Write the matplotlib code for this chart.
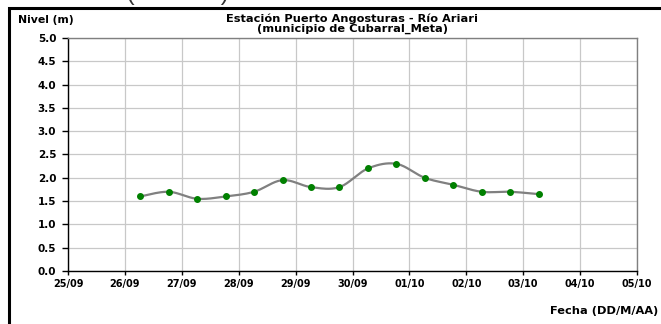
import numpy as np
import matplotlib
matplotlib.use("Agg")
import matplotlib.pyplot as plt
from matplotlib.patches import Rectangle

plt.rcParams['font.family'] = ['DejaVu Sans']

# day labels on the x axis (one per day, 25/09 .. 05/10)
day_labels = ["25/09", "26/09", "27/09", "28/09", "29/09", "30/09",
              "01/10", "02/10", "03/10", "04/10", "05/10"]

# readings: days since 25/09 00:00, level in metres
obs_days = [1.27, 1.77, 2.27, 2.77, 3.27, 3.77, 4.27, 4.77,
            5.27, 5.77, 6.27, 6.77, 7.27, 7.77, 8.27]
obs_level = [1.60, 1.70, 1.55, 1.60, 1.70, 1.95, 1.80, 1.80,
             2.20, 2.30, 2.00, 1.85, 1.70, 1.70, 1.65]

y_ticks = [0.0, 0.5, 1.0, 1.5, 2.0, 2.5, 3.0, 3.5, 4.0, 4.5, 5.0]


def smooth_line(x, y, steps=20):
    """Excel style smoothed line (Catmull-Rom bezier through the points)."""
    x = np.asarray(x, float)
    y = np.asarray(y, float)
    n = len(x)
    xs, ys = [x[0]], [y[0]]
    for i in range(n - 1):
        p0 = np.array([x[max(i - 1, 0)], y[max(i - 1, 0)]])
        p1 = np.array([x[i], y[i]])
        p2 = np.array([x[i + 1], y[i + 1]])
        p3 = np.array([x[min(i + 2, n - 1)], y[min(i + 2, n - 1)]])
        c1 = p1 + (p2 - p0) / 6.0
        c2 = p2 - (p3 - p1) / 6.0
        t = np.linspace(0, 1, steps)[1:, None]
        pts = ((1 - t) ** 3 * p1 + 3 * (1 - t) ** 2 * t * c1
               + 3 * (1 - t) * t ** 2 * c2 + t ** 3 * p2)
        xs.extend(pts[:, 0])
        ys.extend(pts[:, 1])
    return np.array(xs), np.array(ys)


fig = plt.figure(figsize=(6.61, 3.24), dpi=100)
ax = fig.add_axes([0.1029, 0.1636, 0.8608, 0.7191])

sx, sy = smooth_line(obs_days, obs_level)
ax.plot(sx, sy, color="#808080", linewidth=1.6, zorder=3)
ax.plot(obs_days, obs_level, linestyle="none", marker="o", markersize=4,
        color="#008000", zorder=4)

ax.set_xlim(0, len(day_labels) - 1)
ax.set_ylim(0, 5)
ax.set_xticks(range(len(day_labels)))
ax.set_xticklabels(day_labels, fontsize=7, fontweight="bold")
ax.set_yticks(y_ticks)
ax.set_yticklabels([f"{v:.1f}" for v in y_ticks], fontsize=7.5, fontweight="bold")
ax.tick_params(axis="x", direction="out", length=3, width=1, pad=3)
ax.tick_params(axis="y", direction="out", length=4, width=1, pad=4.5)
ax.grid(True, color="#c8c8c8", linewidth=0.9)
ax.set_axisbelow(True)

for side in ("left", "bottom"):
    ax.spines[side].set_color("black")
    ax.spines[side].set_linewidth(1.0)
for side in ("top", "right"):
    ax.spines[side].set_color("#808080")
    ax.spines[side].set_linewidth(1.0)

fig.text(352.5 / 661, 1 - 18.5 / 324, "Estación Puerto Angosturas - Río Ariari",
         ha="center", va="center", fontsize=8.2, fontweight="bold")
fig.text(352.5 / 661, 1 - 28.5 / 324, "(municipio de Cubarral_Meta)",
         ha="center", va="center", fontsize=8.2, fontweight="bold")
fig.text(18 / 661, 1 - 20 / 324, "Nivel (m)", ha="left", va="center",
         fontsize=7.8, fontweight="bold")
fig.text(658 / 661, 1 - 311 / 324, "Fecha (DD/M/AA)", ha="right", va="center",
         fontsize=8.2, fontweight="bold")

# page heading, mostly cut off above the image
fig.text(27 / 661, 1.0, "Estación (Octubre)", ha="left",
         va="baseline", fontsize=17.5, color="#333333",
         family=["Liberation Sans", "DejaVu Sans"])

# outer chart frame, runs past the right and bottom edges
fig.patches.append(Rectangle((9 / 661, -0.1), 1.2, (1 - 8 / 324) + 0.1,
                             transform=fig.transFigure, fill=False,
                             edgecolor="black", linewidth=2.2, clip_on=False))

fig.savefig("out.png", dpi=100)
